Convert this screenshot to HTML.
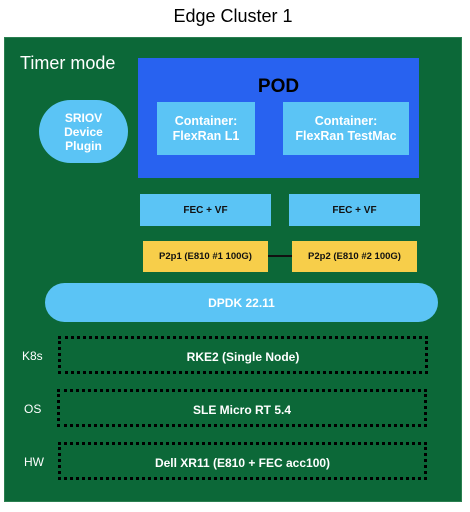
<!DOCTYPE html>
<html><head><style>
body{margin:0;width:470px;height:512px;background:#fff;position:relative;overflow:hidden;font-family:"Liberation Sans",sans-serif}
div{position:absolute;box-sizing:border-box}
.c{display:flex;align-items:center;justify-content:center;text-align:center;font-weight:bold}
.dot{border:3px dotted #000;color:#fff;font-size:12px;padding-top:4px}
.lab{color:#fff;font-size:12px}
</style></head><body>
<div style="left:0;top:6px;width:466px;text-align:center;font-size:18px;color:#000">Edge Cluster 1</div>
<div style="left:4px;top:37px;width:458px;height:465px;background:#0c6838;border:1px solid #2a7f50"></div>
<div style="left:20px;top:53px;font-size:18px;color:#fff">Timer mode</div>
<div style="left:138px;top:58px;width:281px;height:120px;background:#2862f0"></div>
<div style="left:138px;top:76px;width:281px;text-align:center;font-size:19px;font-weight:bold;color:#000">POD</div>
<div class="c" style="left:157px;top:102px;width:98px;height:53px;background:#5bc4f5;color:#fff;font-size:12.5px;line-height:15px">Container:<br>FlexRan L1</div>
<div class="c" style="left:283px;top:102px;width:126px;height:53px;background:#5bc4f5;color:#fff;font-size:12.5px;line-height:15px">Container:<br>FlexRan TestMac</div>
<div class="c" style="left:39px;top:100px;width:89px;height:63px;border-radius:32px;background:#5bc4f5;color:#fff;font-size:12px;line-height:14px">SRIOV<br>Device<br>Plugin</div>
<div class="c" style="left:140px;top:194px;width:131px;height:32px;background:#5bc4f5;color:#111;font-size:10px">FEC + VF</div>
<div class="c" style="left:289px;top:194px;width:131px;height:32px;background:#5bc4f5;color:#111;font-size:10px">FEC + VF</div>
<div style="left:268px;top:255px;width:24px;height:2px;background:#111"></div>
<div class="c" style="left:143px;top:241px;width:125px;height:31px;background:#f7ce4a;color:#111;font-size:9.5px">P2p1 (E810 #1 100G)</div>
<div class="c" style="left:292px;top:241px;width:125px;height:31px;background:#f7ce4a;color:#111;font-size:9.5px">P2p2 (E810 #2 100G)</div>
<div class="c" style="left:45px;top:283px;width:393px;height:39px;border-radius:20px;background:#5bc4f5;color:#fff;font-size:12px">DPDK 22.11</div>
<div class="c dot" style="left:58px;top:336px;width:370px;height:38px">RKE2 (Single Node)</div>
<div class="c dot" style="left:57px;top:389px;width:370px;height:38px">SLE Micro RT 5.4</div>
<div class="c dot" style="left:58px;top:442px;width:369px;height:38px">Dell XR11 (E810 + FEC acc100)</div>
<div class="lab" style="left:22px;top:349px">K8s</div>
<div class="lab" style="left:24px;top:402px">OS</div>
<div class="lab" style="left:24px;top:455px">HW</div>
</body></html>
